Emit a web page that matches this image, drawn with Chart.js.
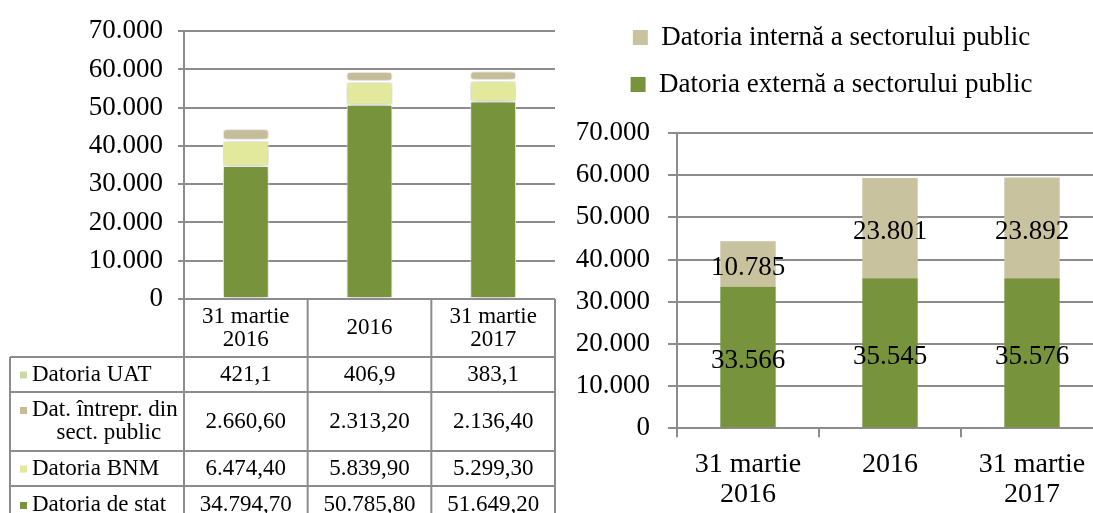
<!DOCTYPE html>
<html>
<head>
<meta charset="utf-8">
<script src="https://cdn.jsdelivr.net/npm/chart.js@4.4.0/dist/chart.umd.min.js"></script>
<style>
  html, body { margin: 0; padding: 0; background: #fff; overflow: hidden; width: 1093px; height: 513px; }
  #left { position: absolute; left: 0; top: 0; }
  #right { position: absolute; left: 560px; top: 0; }
</style>
</head>
<body>
<canvas id="left" width="560" height="513"></canvas>
<canvas id="right" width="545" height="522"></canvas>
<script>
// categorii comune
const categories = [["31 martie", "2016"], "2016", ["31 martie", "2017"]];

// graficul din stanga (mil. lei)
const datoriaStat = [34794.7, 50785.8, 51649.2];
const datoriaBNM = [6474.4, 5839.9, 5299.3];
const datoriaUAT = [421.1, 406.9, 383.1];
const datoriaIntrepr = [2660.6, 2313.2, 2136.4];

// graficul din dreapta
const datoriaExterna = [33566, 35545, 35576];
const datoriaInterna = [10785, 23801, 23892];

const yMax = 70000;
const yStep = 10000;

const gridColor = "#8c8c8c";
const fontFamily = '"Liberation Serif", "Times New Roman", serif';

Chart.defaults.font.family = fontFamily;
Chart.defaults.color = "#000";

// format romanesc: 2.660,60
function fmt(v, dec) {
  const parts = v.toFixed(dec).split(".");
  const intPart = parts[0].replace(/\B(?=(\d{3})+(?!\d))/g, ".");
  return parts[1] ? intPart + "," + parts[1] : intPart;
}

// ---------- stanga: bare + tabel de date ----------
const leftDatasets = [
  { label: "Datoria de stat", data: datoriaStat, backgroundColor: "#77933C", dec: 2 },
  { label: "Datoria BNM", data: datoriaBNM, backgroundColor: "#E2E89C", dec: 2 },
  { label: "Datoria UAT", data: datoriaUAT, backgroundColor: "#C9DAA6", dec: 1 },
  { label: "Dat. întrepr. din sect. public", data: datoriaIntrepr, backgroundColor: "#C4BD97", dec: 2 },
];
// ordinea randurilor din tabel (index in leftDatasets) si textul lor
const tableOrder = [2, 3, 1, 0];
const rowLabels = [["Datoria UAT"], ["Dat. întrepr. din", "sect. public"], ["Datoria BNM"], ["Datoria de stat"]];
const rowHeights = [58, 35, 59, 35, 38]; // antet + 4 randuri

const shadowPlugin = {
  id: "barShadow",
  beforeDatasetsDraw(chart) {
    const ctx = chart.ctx;
    ctx.save();
    ctx.shadowColor = "rgba(0,0,0,0.3)";
    ctx.shadowBlur = 9;
    ctx.shadowOffsetY = 1;
  },
  afterDatasetsDraw(chart) {
    chart.ctx.restore();
  },
};

const tablePlugin = {
  id: "dataTable",
  afterDraw(chart) {
    const { ctx, chartArea } = chart;
    const x = chart.scales.x;
    const colW = chartArea.width / categories.length;
    const labelLeft = 10;
    const ys = [chartArea.bottom];
    rowHeights.forEach(h => ys.push(ys[ys.length - 1] + h));

    ctx.save();
    ctx.strokeStyle = gridColor;
    ctx.lineWidth = 2;
    ctx.beginPath();
    // linii orizontale
    for (let r = 1; r < ys.length; r++) {
      ctx.moveTo(labelLeft, ys[r]);
      ctx.lineTo(chartArea.right, ys[r]);
    }
    // linii verticale ale coloanelor
    ctx.moveTo(chartArea.left, ys[0]);
    ctx.lineTo(chartArea.left, ys[ys.length - 1]);
    categories.forEach((c, i) => {
      const xr = x.getPixelForValue(i) + colW / 2;
      ctx.moveTo(xr, ys[0]);
      ctx.lineTo(xr, ys[ys.length - 1]);
    });
    ctx.moveTo(labelLeft, ys[1]);
    ctx.lineTo(labelLeft, ys[ys.length - 1]);
    ctx.stroke();

    ctx.fillStyle = "#000";
    ctx.textAlign = "center";
    ctx.textBaseline = "middle";
    ctx.font = "23px " + fontFamily;
    const lh = 23;

    // antet
    categories.forEach((c, i) => {
      const lines = Array.isArray(c) ? c : [c];
      const cx = x.getPixelForValue(i);
      const cy = (ys[0] + ys[1]) / 2;
      lines.forEach((t, k) => {
        ctx.fillText(t, cx, cy + (k - (lines.length - 1) / 2) * lh);
      });
    });

    // randuri
    tableOrder.forEach((di, r) => {
      const ds = leftDatasets[di];
      const top = ys[r + 1], bottom = ys[r + 2];
      const cy = (top + bottom) / 2;
      const lines = rowLabels[r];
      const firstY = cy - (lines.length - 1) / 2 * lh;
      // cheia de legenda
      ctx.fillStyle = ds.backgroundColor;
      ctx.fillRect(20, firstY - 3, 7, 7);
      ctx.fillStyle = "#000";
      ctx.textAlign = "left";
      const w0 = ctx.measureText(lines[0]).width;
      lines.forEach((t, k) => {
        const tw = ctx.measureText(t).width;
        const tx = k === 0 ? 32 : 32 + (w0 - tw) / 2 + 4;
        ctx.fillText(t, tx, firstY + k * lh);
      });
      ctx.textAlign = "center";
      ds.data.forEach((v, i) => {
        ctx.fillText(fmt(v, ds.dec), x.getPixelForValue(i), cy);
      });
    });
    ctx.restore();
  },
};

new Chart(document.getElementById("left"), {
  type: "bar",
  data: {
    labels: categories,
    datasets: leftDatasets.map(d => ({
      label: d.label,
      data: d.data,
      backgroundColor: d.backgroundColor,
      borderColor: "#ffffff",
      borderWidth: 1,
      borderRadius: 3,
      borderSkipped: false,
      barPercentage: 0.37,
      categoryPercentage: 1,
    })),
  },
  options: {
    responsive: false,
    animation: false,
    layout: { padding: { top: 23, right: 5, bottom: 214, left: 0 } },
    plugins: {
      legend: { display: false },
      tooltip: { enabled: false },
    },
    scales: {
      x: { stacked: true, display: false },
      y: {
        stacked: true,
        min: 0,
        max: yMax,
        afterFit(scale) { scale.width = 184; },
        ticks: {
          stepSize: yStep,
          padding: 15,
          font: { size: 27 },
          callback: v => fmt(v, 0),
        },
        grid: { color: gridColor, lineWidth: 2, tickLength: 6 },
        border: { color: gridColor, width: 2 },
      },
    },
  },
  plugins: [shadowPlugin, tablePlugin],
});

// ---------- dreapta: externa / interna ----------
const valueLabels = {
  id: "valueLabels",
  afterDatasetsDraw(chart) {
    const ctx = chart.ctx;
    ctx.save();
    ctx.font = "27px " + fontFamily;
    ctx.fillStyle = "#000";
    ctx.textAlign = "center";
    ctx.textBaseline = "middle";
    chart.data.datasets.forEach((ds, di) => {
      chart.getDatasetMeta(di).data.forEach((bar, i) => {
        ctx.fillText(fmt(ds.data[i], 0), bar.x, (bar.y + bar.base) / 2 + 4);
      });
    });
    ctx.restore();
  },
};

// spatiu in plus sub legenda
const legendGap = {
  id: "legendGap",
  beforeInit(chart) {
    const origFit = chart.legend.fit;
    chart.legend.fit = function () {
      origFit.call(this);
      this.height += 25;
    };
  },
};

new Chart(document.getElementById("right"), {
  type: "bar",
  data: {
    labels: categories,
    datasets: [
      { label: "Datoria externă a sectorului public", data: datoriaExterna, backgroundColor: "#77933C" },
      { label: "Datoria internă a sectorului public", data: datoriaInterna, backgroundColor: "#C8C29E" },
    ].map(d => Object.assign(d, { barPercentage: 0.39, categoryPercentage: 1 })),
  },
  options: {
    responsive: false,
    animation: false,
    layout: { padding: { top: 4, right: 2, bottom: 0, left: 0 } },
    plugins: {
      legend: {
        position: "top",
        reverse: true,
        labels: {
          boxWidth: 15,
          boxHeight: 15,
          padding: 20,
          font: { size: 27 },
          color: "#000",
        },
      },
      tooltip: { enabled: false },
    },
    scales: {
      x: {
        stacked: true,
        ticks: { padding: 13, font: { size: 28, lineHeight: 1.05 } },
        grid: { drawOnChartArea: false, color: gridColor, lineWidth: 2, tickLength: 9 },
        border: { color: gridColor, width: 2 },
      },
      y: {
        stacked: true,
        min: 0,
        max: yMax,
        afterFit(scale) { scale.width = 117; },
        ticks: {
          stepSize: yStep,
          padding: 18,
          font: { size: 27 },
          callback: v => fmt(v, 0),
        },
        grid: { color: gridColor, lineWidth: 2, tickLength: 9 },
        border: { color: gridColor, width: 2 },
      },
    },
  },
  plugins: [valueLabels, legendGap],
});
</script>
</body>
</html>
